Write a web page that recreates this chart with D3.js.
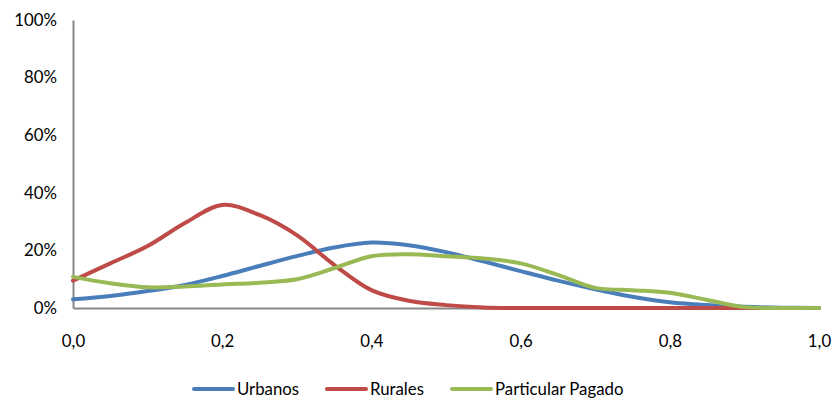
<!DOCTYPE html>
<html>
<head>
<meta charset="utf-8">
<script src="https://cdn.jsdelivr.net/npm/d3@7"></script>
<style>
  body { margin: 0; background: #fff; }
  svg text { font-family: Lato, "Open Sans", sans-serif; fill: #000; }
</style>
</head>
<body>
<svg id="chart" width="833" height="398"></svg>
<script>
// Distribution of a 0–1 index by school type
const xValues = [0, 0.05, 0.1, 0.15, 0.2, 0.25, 0.3, 0.35, 0.4, 0.45, 0.5,
                 0.55, 0.6, 0.65, 0.7, 0.75, 0.8, 0.85, 0.9, 0.95, 1.0];
const urbanos = [3, 4.2, 5.9, 8, 11.1, 14.6, 18, 21, 22.7, 21.8, 19.4,
                 16.2, 12.8, 9.5, 6.5, 3.9, 2, 1, 0.4, 0.1, 0];
const rurales = [9.5, 15.5, 21.5, 29.5, 35.8, 32.3, 25.3, 15, 6.2, 2.5, 1,
                 0.2, 0, 0, 0, 0, 0, 0, 0, 0, 0];
const particularPagado = [10.8, 8.6, 7.2, 7.5, 8.2, 8.8, 10, 13.8, 18, 18.7, 18,
                          17.2, 15.5, 11.5, 7, 6.2, 5.3, 2.8, 0.3, 0, 0];

const seriesNames = ["Urbanos", "Rurales", "Particular Pagado"];
const seriesColors = ["#4A7EBB", "#BE4B48", "#98B954"];
const xTicks = [0, 0.2, 0.4, 0.6, 0.8, 1.0];
const yTicks = [0, 20, 40, 60, 80, 100];

const series = [urbanos, rurales, particularPagado].map((vals, i) => ({
  name: seriesNames[i],
  color: seriesColors[i],
  points: xValues.map((x, j) => ({ x, y: vals[j] }))
}));

const svg = d3.select("#chart");
const plotLeft = 73, plotRight = 819, plotTop = 20, plotBottom = 308;
const fontSize = "16.8px";

const x = d3.scaleLinear().domain([0, 1]).range([plotLeft, plotRight]);
const y = d3.scaleLinear().domain([0, 100]).range([plotBottom, plotTop]);

// Axes
const fmtX = d => d3.format(".1f")(d).replace(".", ",");
const yAxis = svg.append("g")
  .attr("transform", `translate(${plotLeft},0)`)
  .call(d3.axisLeft(y).tickValues(yTicks).tickSize(0).tickPadding(16)
    .tickFormat(d => d + "%"));
const xAxis = svg.append("g")
  .attr("transform", `translate(0,${plotBottom})`)
  .call(d3.axisBottom(x).tickValues(xTicks).tickSize(0).tickPadding(27)
    .tickFormat(fmtX));

[xAxis, yAxis].forEach(g => {
  g.select(".domain").attr("stroke", "#878787").attr("stroke-width", 2);
  g.selectAll("text").style("font-size", fontSize).style("font-family", "Lato, sans-serif");
});

// Smoothed lines
const line = d3.line()
  .x(d => x(d.x))
  .y(d => y(d.y))
  .curve(d3.curveCatmullRom.alpha(0.5));

svg.append("g").selectAll("path")
  .data(series)
  .join("path")
  .attr("fill", "none")
  .attr("stroke", d => d.color)
  .attr("stroke-width", 4)
  .attr("stroke-linecap", "round")
  .attr("d", d => line(d.points));

// Legend
const legendX = [194, 327, 452];
const legend = svg.append("g").selectAll("g")
  .data(series)
  .join("g")
  .attr("transform", (d, i) => `translate(${legendX[i]},389)`);
legend.append("line")
  .attr("x1", 0).attr("x2", 39)
  .attr("stroke", d => d.color)
  .attr("stroke-width", 4)
  .attr("stroke-linecap", "round");
legend.append("text")
  .attr("x", 43).attr("dy", "0.35em")
  .style("font-size", fontSize)
  .text(d => d.name);
</script>
</body>
</html>
